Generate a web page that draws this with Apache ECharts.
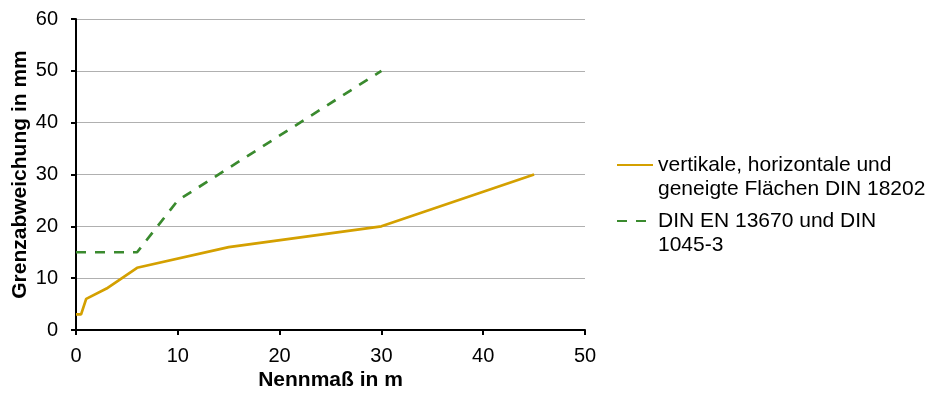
<!DOCTYPE html>
<html><head><meta charset="utf-8">
<script src="https://cdn.jsdelivr.net/npm/echarts@6/dist/echarts.min.js"></script>
<style>html,body{margin:0;padding:0;background:#fff}#c{width:931px;height:394px}</style>
</head><body><div id="c"></div>
<script>
var seriesNames = ['vertikale, horizontale und\ngeneigte Flächen DIN 18202', 'DIN EN 13670 und DIN\n1045-3'];
var goldX = [0, 0.5, 1, 3, 6, 15, 30, 45];
var goldY = [3, 3, 6, 8, 12, 16, 20, 30];
var greenX = [0, 6, 10, 30];
var greenY = [15, 15, 25, 50];
var xTicks = [0, 10, 20, 30, 40, 50];
var yTicks = [0, 10, 20, 30, 40, 50, 60];

function pairs(xs, ys){ return xs.map(function(x,i){ return [x, ys[i]]; }); }
var font = 'Liberation Sans, Arial, sans-serif';
var chart = echarts.init(document.getElementById('c'), null, {renderer:'canvas'});
var legendText = {fontFamily: font, fontSize: 21, color: '#000', lineHeight: 24};
var legendCommon = {orient: 'vertical', left: 616, padding: 0, itemWidth: 36, itemHeight: 14, itemGap: 0,
  textStyle: legendText, selectedMode: false, itemStyle: {opacity: 0},
  formatter: function(name){ return '\n' + name; }};
chart.setOption({
  animation: false,
  grid: {left: 76, right: 346, top: 19, bottom: 64, outerBoundsMode: 'none', containLabel: false},
  legend: [
    Object.assign({data: [seriesNames[0]], top: 165-36}, legendCommon),
    Object.assign({data: [seriesNames[1]], top: 221-36}, legendCommon)
  ],
  xAxis: {
    type: 'value', min: xTicks[0], max: xTicks[xTicks.length-1], interval: 10,
    name: 'Nennmaß in m', nameLocation: 'middle', nameGap: 40, nameMoveOverlap: false,
    nameTextStyle: {fontFamily: font, fontSize: 21, fontWeight: 'bold', color: '#000'},
    axisLine: {show: true, onZero: false, lineStyle: {color: '#000', width: 2}},
    axisTick: {show: true, length: 5, lineStyle: {color: '#000', width: 2}},
    axisLabel: {fontFamily: font, fontSize: 20, color: '#000', margin: 16},
    splitLine: {show: false}
  },
  yAxis: {
    type: 'value', min: yTicks[0], max: yTicks[yTicks.length-1], interval: 10,
    name: 'Grenzabweichung in mm', nameLocation: 'middle', nameGap: 45, nameMoveOverlap: false,
    nameTextStyle: {fontFamily: font, fontSize: 21, fontWeight: 'bold', color: '#000'},
    axisLine: {show: true, lineStyle: {color: '#000', width: 2}},
    axisTick: {show: true, length: 5, lineStyle: {color: '#000', width: 2}},
    axisLabel: {fontFamily: font, fontSize: 20, color: '#000', margin: 18},
    splitLine: {show: true, lineStyle: {color: '#b0b0b0', width: 1}}
  },
  series: [
    {name: seriesNames[0], type: 'line', data: pairs(goldX, goldY), symbol: 'none',
     lineStyle: {color: '#d4a000', width: 2.7}, itemStyle: {color: '#d4a000'}},
    {name: seriesNames[1], type: 'line', data: pairs(greenX, greenY), symbol: 'none',
     lineStyle: {color: '#3a8a2e', width: 2.7, type: [10, 9]}, itemStyle: {color: '#3a8a2e'}}
  ]
});
</script></body></html>
